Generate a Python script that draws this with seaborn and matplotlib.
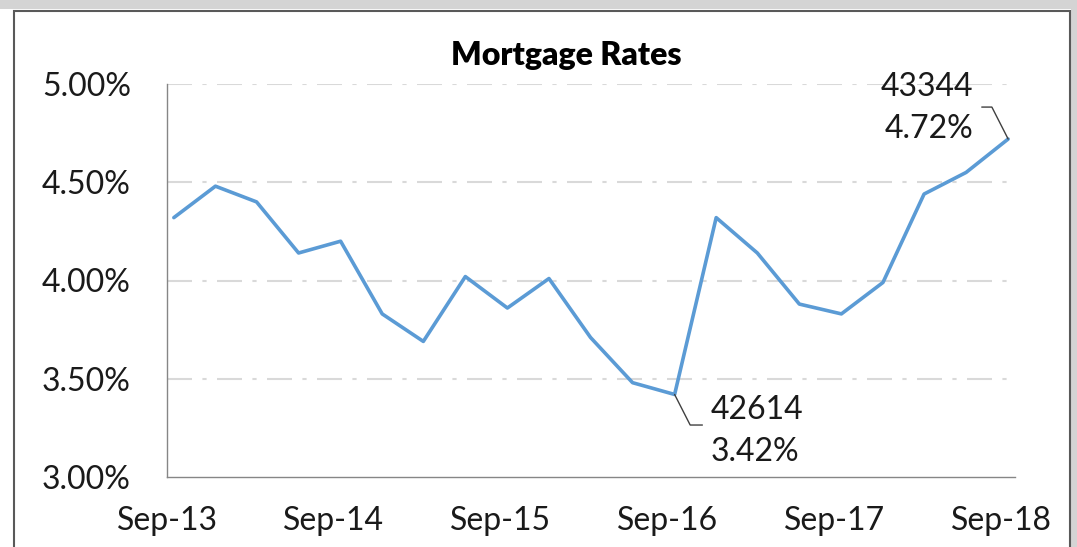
import matplotlib
matplotlib.use("Agg")
import matplotlib.pyplot as plt
import matplotlib.patches as mpatches
import seaborn as sns
import pandas as pd

# quarterly observations (first of month), rate in percent
dates = ["2013-09-01", "2013-12-01", "2014-03-01", "2014-06-01", "2014-09-01",
         "2014-12-01", "2015-03-01", "2015-06-01", "2015-09-01", "2015-12-01",
         "2016-03-01", "2016-06-01", "2016-09-01", "2016-12-01", "2017-03-01",
         "2017-06-01", "2017-09-01", "2017-12-01", "2018-03-01", "2018-06-01",
         "2018-09-01"]
rates = [4.32, 4.48, 4.40, 4.14, 4.20, 3.83, 3.69, 4.02, 3.86, 4.01,
         3.71, 3.48, 3.42, 4.32, 4.14, 3.88, 3.83, 3.99, 4.44, 4.55, 4.72]
tick_dates = ["2013-09-01", "2014-09-01", "2015-09-01", "2016-09-01",
              "2017-09-01", "2018-09-01"]
y_ticks = [3.0, 3.5, 4.0, 4.5, 5.0]
# points that carry a data label: (excel serial, index)
labelled = [(42614, 12), (43344, 20)]


def set_style():
    sns.set_theme(style="white")
    plt.rcParams['font.family'] = ['Lato', 'DejaVu Sans']
    plt.rcParams['figure.dpi'] = 100


set_style()

df = pd.DataFrame({"date": pd.to_datetime(dates), "rate": rates})
# excel date axis puts each month's value in the middle of its slot
df["xpos"] = df["date"] + pd.Timedelta(days=15)

fig = plt.figure(figsize=(10.77, 5.47), dpi=100)
W, H = 1077, 547

# outer chart frame + shadow strips
fig.patches.append(mpatches.Rectangle((0, 1 - 9 / H), 1, 9 / H, transform=fig.transFigure,
                                      facecolor='#d4d4d4', edgecolor='none', zorder=0))
fig.patches.append(mpatches.Rectangle((1071 / W, 0), 6 / W, 1, transform=fig.transFigure,
                                      facecolor='#d4d4d4', edgecolor='none', zorder=0))
fig.patches.append(mpatches.Rectangle((14 / W, -0.05), (1070 - 14) / W, 1.05 - 11 / H,
                                      transform=fig.transFigure, facecolor='white',
                                      edgecolor='#595959', linewidth=1.5, zorder=1))

ax = fig.add_axes([167 / W, 1 - 477 / H, (1015 - 167) / W, (477 - 84) / H])
ax.set_facecolor('none')
ax.set_zorder(2)

sns.lineplot(data=df, x="xpos", y="rate", ax=ax, color='#5B9BD5', linewidth=2.6)

ax.set_ylim(3.0, 5.0)
ax.set_xlim(pd.Timestamp("2013-09-01"), pd.Timestamp("2018-10-01"))
ax.set_yticks(y_ticks)
ax.set_yticklabels([f"{v:.2f}%" for v in y_ticks])
ax.set_xticks(pd.to_datetime(tick_dates))
ax.set_xticklabels([pd.Timestamp(d).strftime("%b-%y") for d in tick_dates])

ax.set_xlabel("")
ax.set_ylabel("")
ax.tick_params(axis='both', which='major', direction='out', length=9, width=1,
               color='#868686', labelsize=23, labelcolor='#1a1a1a')
ax.tick_params(axis='y', pad=17)
ax.tick_params(axis='x', pad=12)

for s in ['top', 'right']:
    ax.spines[s].set_visible(False)
for s in ['left', 'bottom']:
    ax.spines[s].set_color('#868686')
    ax.spines[s].set_linewidth(1)

ax.grid(False)
for v in y_ticks[1:]:
    ax.axhline(v, color='#d9d9d9', linewidth=1.5, dashes=(12, 5, 2, 5), zorder=0)

fig.text(566 / W, 1 - 56 / H, "Mortgage Rates", fontsize=23, fontweight='heavy',
         color='#000000', ha='center', va='center')

# data labels with excel-style leader lines
offsets = {42614: ((20, -22), (26, -26), 'left'), 43344: ((-19, 23), (-25, 22), 'right')}
for serial, i in labelled:
    x, y = df["xpos"].iloc[i], df["rate"].iloc[i]
    stub, txt_off, ha = offsets[serial]
    ax.annotate("", xy=(x, y), xytext=stub, textcoords='offset points',
                arrowprops=dict(arrowstyle='-', color='#404040', lw=1,
                                shrinkA=0, shrinkB=0,
                                connectionstyle='angle,angleA=0,angleB=-63,rad=0'))
    ax.annotate(f"{serial}\n{y:.2f}%", xy=(x, y), xytext=txt_off,
                textcoords='offset points', ha=ha, va='center', fontsize=23,
                color='#1a1a1a', linespacing=1.5, annotation_clip=False)

fig.savefig("out.png", dpi=100)
